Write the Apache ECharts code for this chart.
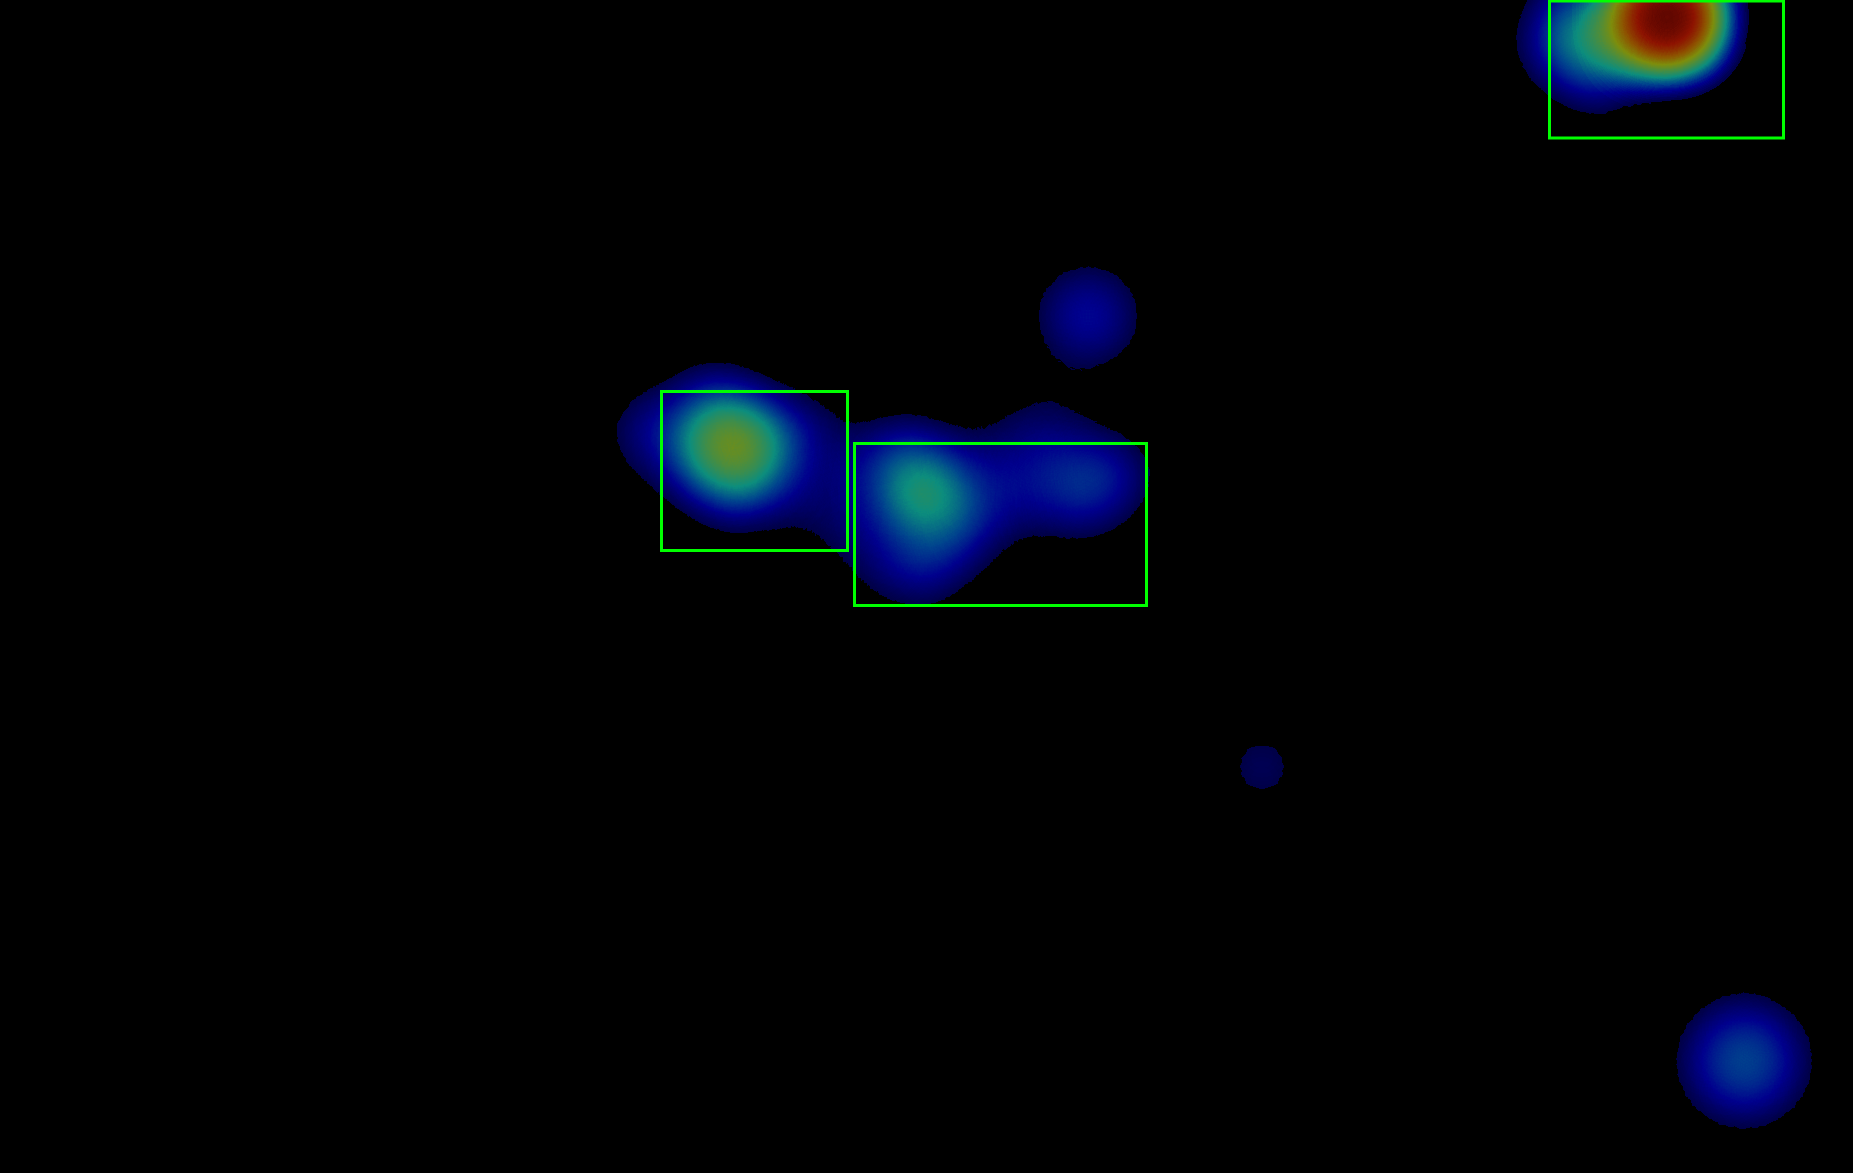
<!DOCTYPE html>
<html>
<head>
<meta charset="utf-8">
<script src="https://cdn.jsdelivr.net/npm/echarts@6/dist/echarts.min.js"></script>
<style>
html,body{margin:0;padding:0;background:#000;overflow:hidden}
#chart{width:1853px;height:1173px}
</style>
</head>
<body>
<div id="chart"></div>
<script>
// ---- data (pixel-space coordinates of the frame, value = intensity 0..1) ----
const frameWidth = 1853;
const frameHeight = 1173;

const hotSpotPoints = [[1667,17,1],[1667,17,1],[1667,17,1],[1667,17,1],[1667,17,0.6]];
const topRightHaloPoints = [[1595,40,0.6],[1550,45,0.25],[1580,5,0.3],[1600,80,0.26],[1700,60,0.1]];
const leftBlobPoints = [[720,440,0.6],[745,450,0.6],[733,445,0.3],[650,430,0.33],[715,395,0.25],[735,495,0.3],[800,430,0.3],[680,475,0.15]];
const bridgePoints = [[860,470,0.18],[795,495,0.18],[850,525,0.2],[880,565,0.15]];
const middleBlobPoints = [[926,495,0.68],[912,480,0.2],[905,450,0.25],[925,565,0.35],[965,530,0.25],[1000,500,0.22],[990,455,0.18],[1045,425,0.23],[1050,485,0.2],[1090,470,0.17],[1118,475,0.26],[1080,505,0.22]];
const upperSmallPoints = [[1063,316,0.16],[1113,316,0.16],[1088,291,0.16],[1088,341,0.16]];
const lowerSmallPoints = [[1262,757,0.14],[1262,777,0.14]];
const bottomRightPoints = [[1779,1061,0.2],[1762,1091,0.2],[1727,1091,0.2],[1709,1061,0.2],[1727,1031,0.2],[1762,1031,0.2]];

// rectangles: [x1, y1, x2, y2]
const boxes = [[1549.5,1,1783.5,138],[661.5,391.5,847.5,550.5],[854.5,443.5,1146.5,605.5]];

const heatColors = ['#000080','#000080','#0000ff','#0080ff','#15ffe2','#7bff7b','#e2ff15','#ff9700','#ff2100','#800000'];

// ---- chart ----
const heatData = [].concat(hotSpotPoints, topRightHaloPoints, leftBlobPoints, bridgePoints, middleBlobPoints,
  upperSmallPoints, lowerSmallPoints, bottomRightPoints);

echarts.registerMap('frame', {
  type: 'FeatureCollection',
  features: [{
    type: 'Feature', properties: { name: 'frame' },
    geometry: { type: 'Polygon', coordinates: [[[0,0],[frameWidth,0],[frameWidth,frameHeight],[0,frameHeight],[0,0]]] }
  }]
});

const chart = echarts.init(document.getElementById('chart'), null, { renderer: 'canvas' });
chart.setOption({
  backgroundColor: '#000',
  animation: false,
  geo: {
    map: 'frame',
    projection: { project: p => [p[0], p[1]], unproject: p => [p[0], p[1]] },
    left: 0, top: 0, right: 0, bottom: 0,
    roam: false, silent: true,
    label: { show: false },
    itemStyle: { areaColor: 'rgba(0,0,0,0)', borderColor: 'rgba(0,0,0,0)', borderWidth: 0 },
    emphasis: { disabled: true },
    select: { disabled: true }
  },
  visualMap: {
    type: 'continuous', show: false, min: 0, max: 1, range: [1/9, 1], seriesIndex: 0,
    inRange: { color: heatColors },
    outOfRange: { color: ['rgba(0,0,0,0)'] }
  },
  series: [
    {
      type: 'heatmap', coordinateSystem: 'geo', silent: true,
      pointSize: 35, blurSize: 60, minOpacity: 0.55, maxOpacity: 0.55,
      data: heatData
    },
    {
      type: 'lines', coordinateSystem: 'geo', polyline: true, silent: true,
      lineStyle: { color: '#00ff00', width: 3, opacity: 1 },
      data: boxes.map(b => ({ coords: [[b[0],b[1]],[b[2],b[1]],[b[2],b[3]],[b[0],b[3]],[b[0],b[1]],[b[2],b[1]]] }))
    }
  ]
});
</script>
</body>
</html>
